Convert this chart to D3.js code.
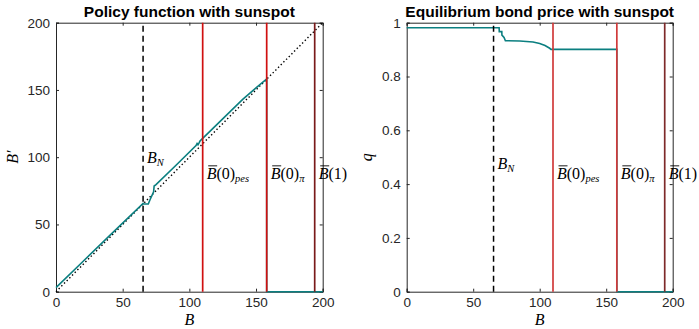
<!DOCTYPE html>
<html lang="en">
<head>
    <meta charset="UTF-8">
    <title>Sunspot policy and bond price</title>
    <script src="https://d3js.org/d3.v7.min.js"></script>
    <style>
        body { margin: 0; background: #fff; }
        svg { display: block; }
        .tick text { font-family: "Liberation Sans", Arial, sans-serif; font-size: 13.5px; fill: #262626; }
        .ttl { font-family: "Liberation Sans", Arial, sans-serif; font-size: 15.5px; font-weight: bold; fill: #000; }
        .tex { font-family: "Liberation Serif", "Times New Roman", serif; fill: #000; }
        .it { font-style: italic; }
    </style>
</head>
<body>
<div id="chart"></div>
<script>
    // threshold lines (B values)
    const bN = 65.3, bPes = 110, bPi = 158, bOne = 194;

    // policy function B'(B)
    const policyB  = [0, 20, 40, 65.3, 65.6, 69.2, 70.5, 73.2, 73.6, 75, 90, 105, 105.8, 106.5, 107.2, 108, 110, 125, 140, 150, 158, 158, 200];
    const policyBp = [3, 22.3, 41.5, 65.6, 65.2, 65.2, 68.4, 74.2, 78.6, 79.6, 94, 108.6, 110.2, 109.2, 110.4, 112, 114, 128.5, 143, 151.5, 158.2, 0, 0];

    // bond price q(B)
    const priceB = [0, 69.5, 69.6, 71.5, 71.6, 73.2, 74.2, 85, 95, 100, 104, 107.5, 108.5, 158, 158, 200];
    const priceQ = [0.981, 0.981, 0.967, 0.967, 0.954, 0.945, 0.933, 0.932, 0.928, 0.923, 0.915, 0.905, 0.901, 0.901, 0, 0];

    const xTicks = [0, 50, 100, 150, 200];
    const yTicksL = [0, 50, 100, 150, 200];
    const yTicksR = [0, 0.2, 0.4, 0.6, 0.8, 1];

    const W = 699, H = 329;
    const svg = d3.select("#chart").append("svg").attr("width", W).attr("height", H);

    const plotTop = 22.7, plotBottom = 291.7;
    const teal = "#0b7f80";

    function panel(left, right, yMax, yTicks, yFmt, xs, ys, opts) {
        const x = d3.scaleLinear().domain([0, 200]).range([left, right]);
        const y = d3.scaleLinear().domain([0, yMax]).range([plotBottom, plotTop]);
        const g = svg.append("g");

        // axes box with inward ticks
        const ax = d3.axisBottom(x).tickValues(xTicks).tickSize(-3).tickPadding(6);
        const axT = d3.axisTop(x).tickValues(xTicks).tickSize(-3).tickFormat("");
        const ay = d3.axisLeft(y).tickValues(yTicks).tickSize(-3).tickPadding(6).tickFormat(yFmt);
        const ayR = d3.axisRight(y).tickValues(yTicks).tickSize(-3).tickFormat("");
        const style = s => { s.select(".domain").attr("stroke", "#262626"); s.selectAll(".tick line").attr("stroke", "#262626"); };
        g.append("g").attr("transform", `translate(0,${plotBottom})`).call(ax).call(style);
        g.append("g").attr("transform", `translate(0,${plotTop})`).call(axT).call(style);
        g.append("g").attr("transform", `translate(${left},0)`).call(ay).call(style);
        g.append("g").attr("transform", `translate(${right},0)`).call(ayR).call(style);
        g.selectAll(".domain").attr("stroke-width", 1);

        if (opts.diag) {
            g.append("line").attr("x1", x(0)).attr("y1", y(0)).attr("x2", x(200)).attr("y2", y(200))
                .attr("stroke", "#000").attr("stroke-width", 1.4).attr("stroke-dasharray", "1.4,2.4");
        }

        const line = d3.line().x((d, i) => x(xs[i])).y((d, i) => y(ys[i]));
        g.append("path").attr("d", line(xs)).attr("fill", "none")
            .attr("stroke", teal).attr("stroke-width", 1.6);

        // vertical threshold lines, on top of the curve
        g.append("line").attr("x1", x(bN)).attr("x2", x(bN)).attr("y1", y(0)).attr("y2", y(yMax))
            .attr("stroke", "#000").attr("stroke-width", 1.5).attr("stroke-dasharray", "6,4");
        [[bPes, opts.red], [bPi, opts.red], [bOne, opts.dark]].forEach(([v, c]) => {
            g.append("line").attr("x1", x(v)).attr("x2", x(v)).attr("y1", y(0)).attr("y2", y(yMax))
                .attr("stroke", c).attr("stroke-width", 1.7);
        });

        // labels on threshold lines
        const lab = (v, yv, arg, sub, bar) => {
            const t = g.append("text").attr("class", "tex").attr("x", x(v) + 4).attr("y", y(yv)).attr("dy", "0.35em")
                .attr("font-size", 16);
            t.append("tspan").attr("class", "it").text("B");
            if (arg) t.append("tspan").text(arg);
            if (sub) t.append("tspan").attr("class", "it").attr("font-size", 10.5).attr("dy", 3.5).text(sub);
            if (bar) {
                g.append("line").attr("x1", x(v) + 5.5).attr("x2", x(v) + 14.5)
                    .attr("y1", y(yv) - 7.5).attr("y2", y(yv) - 7.5).attr("stroke", "#000").attr("stroke-width", 0.9);
            }
        };
        lab(bN, opts.nY, null, "N", false);
        lab(bPes, opts.bY, "(0)", "pes", true);
        lab(bPi, opts.bY, "(0)", "π", true);
        lab(bOne, opts.bY, "(1)", null, true);

        g.append("text").attr("class", "ttl").attr("x", (left + right) / 2).attr("y", 17)
            .attr("text-anchor", "middle").text(opts.title);
        g.append("text").attr("class", "tex it").attr("font-size", 16).attr("x", (left + right) / 2).attr("y", 325)
            .attr("text-anchor", "middle").text("B");
        g.append("text").attr("class", "tex it").attr("font-size", 16)
            .attr("transform", `translate(${left - opts.yLabOff},${(plotTop + plotBottom) / 2}) rotate(-90)`)
            .attr("text-anchor", "middle").text(opts.yLab);
    }

    panel(56, 322.7, 200, yTicksL, d3.format("d"), policyB, policyBp,
        { red: "#d01010", dark: "#7a1a1a", diag: true, nY: 100, bY: 88, title: "Policy function with sunspot", yLab: "B′", yLabOff: 38 });
    panel(406.7, 672.7, 1, yTicksR, d => d === 0 || d === 1 ? d3.format("d")(d) : d3.format(".1f")(d), priceB, priceQ,
        { red: "#d03a3a", dark: "#7e2a2a", diag: false, nY: 0.478, bY: 0.44, title: "Equilibrium bond price with sunspot", yLab: "q", yLabOff: 35 });
</script>
</body>
</html>
